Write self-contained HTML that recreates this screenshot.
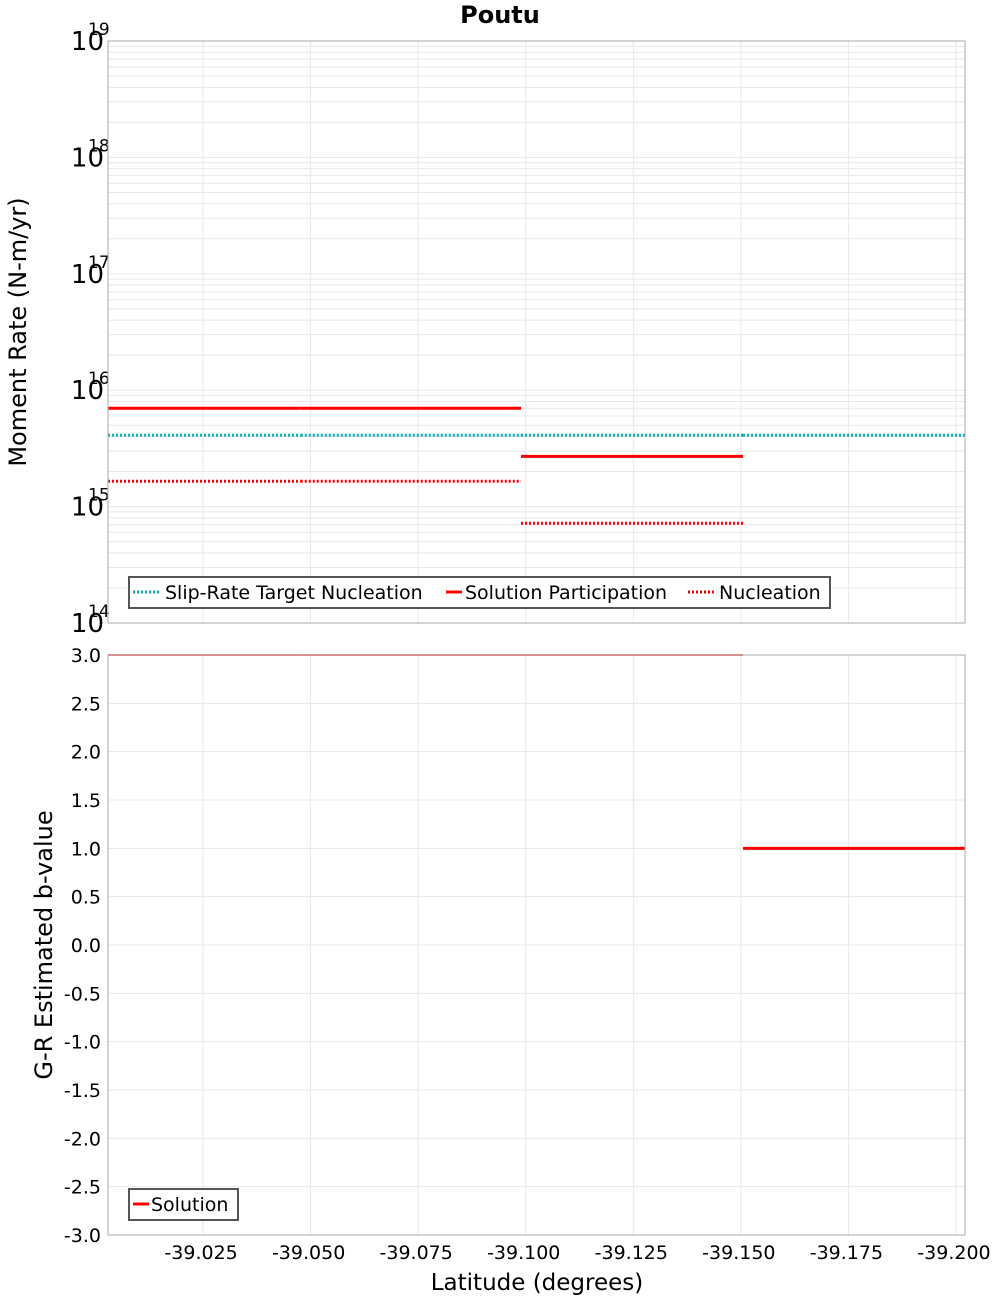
<!DOCTYPE html>
<html><head><meta charset="utf-8"><style>
body{margin:0;background:#fff;font-family:"Liberation Sans","DejaVu Sans",sans-serif}
svg text{font-family:"DejaVu Sans","Liberation Sans",sans-serif}
</style></head><body>
<svg id="chart" width="1000" height="1300" xmlns="http://www.w3.org/2000/svg"></svg>
<script>
const segStarts = [-39.0029, -39.0477, -39.0989, -39.1505];
const segEnds   = [-39.0477, -39.0989, -39.1505, -39.2021];
const participation = [7.0e15, 7.0e15, 2.7e15, null];
const nucleation = [1.65e15, 1.65e15, 7.2e14, null];
const targetNucleation = [4.1e15, 4.1e15, 4.1e15, 4.1e15];
const bValues = [3.0, 3.0, 3.0, 1.0];
const xTicks = [-39.025, -39.05, -39.075, -39.1, -39.125, -39.15, -39.175, -39.2];
const xTickLabels = ["-39.025","-39.050","-39.075","-39.100","-39.125","-39.150","-39.175","-39.200"];
const logTicks = [14,15,16,17,18,19];
const bTicks = [-3,-2.5,-2,-1.5,-1,-0.5,0,0.5,1,1.5,2,2.5,3];

const L=108,R=965,T1=41,B1=623,T2=655,B2=1235;
const xMin=-39.0029,xMax=-39.2021;
const X=v=>L+(v-xMin)/(xMax-xMin)*(R-L);
const Y1=v=>B1-(Math.log10(v)-14)/5*(B1-T1);
const Y2=v=>B2-(v+3)/6*(B2-T2);
const svg=document.getElementById('chart');
const NS='http://www.w3.org/2000/svg';
function mk(tag,attrs,parent){const e=document.createElementNS(NS,tag);for(const k in attrs)e.setAttribute(k,attrs[k]);(parent||svg).appendChild(e);return e;}
function line(x1,y1,x2,y2,st,w,dash){return mk('line',{x1,y1,x2,y2,stroke:st,'stroke-width':w||1,'stroke-dasharray':dash||'none'});}
function txt(x,y,s,size,anchor,extra){const t=mk('text',Object.assign({x,y,'font-size':size,'text-anchor':anchor||'start',fill:'#000'},extra||{}));t.textContent=s;return t;}

let t=txt(500,23,'Poutu',24,'middle',{'font-weight':'bold'});



for(let d=14;d<19;d++)for(let m=1;m<=9;m++){const y=Y1(m*Math.pow(10,d));line(L,y,R,y,'#e8e8e8',1);}
for(const b of bTicks)line(L,Y2(b),R,Y2(b),'#e8e8e8',1);
for(const v of xTicks){line(X(v),T1,X(v),B1,'#e8e8e8',1);line(X(v),T2,X(v),B2,'#e8e8e8',1);}

for(const d of logTicks){const y=Y1(Math.pow(10,d));
  const g=mk('g',{});
  
  
  const a=mk('text',{x:104,y:y+9,'font-size':26,'text-anchor':'end',fill:'#000'},g);a.textContent='10';
  const b=mk('text',{x:88,y:y-6,'font-size':17,fill:'#000'},g);b.textContent=String(d);
}
for(const b of bTicks){t=txt(101,Y2(b)+7,b.toFixed(1),19,'end');
  
  }
xTicks.forEach((v,i)=>{t=txt(X(v)-2,1259,xTickLabels[i],19,'middle');
  
  });

for(let i=0;i<segStarts.length;i++){
  const x1=X(segStarts[i]),x2=X(segEnds[i]);
  let e;
  if(targetNucleation[i]!=null){e=line(x1,Y1(targetNucleation[i]),x2,Y1(targetNucleation[i]),'#00b4b4',3,'2,2');
    }
  if(participation[i]!=null){e=line(x1,Y1(participation[i]),x2,Y1(participation[i]),'#ff0000',3);
    }
  if(nucleation[i]!=null){e=line(x1,Y1(nucleation[i]),x2,Y1(nucleation[i]),'#ff0000',3,'2,2');
    }
  const yb=Math.max(T2,Y2(bValues[i]));
  e=line(x1,yb,x2,yb,'#ff0000',bValues[i]>=3?1.5:3);
  
}

let f=mk('rect',{x:L,y:T1,width:R-L,height:B1-T1,fill:'none',stroke:'#aaa'});

f=mk('rect',{x:L,y:T2,width:R-L,height:B2-T2,fill:'none',stroke:'#aaa'});


t=txt(0,0,'Moment Rate (N-m/yr)',24,'middle',{transform:'translate(26,332) rotate(-90)'});

t=txt(0,0,'G-R Estimated b-value',24,'middle',{transform:'translate(52,945) rotate(-90)'});

t=txt(537,1290,'Latitude (degrees)',23,'middle');


let lg=mk('g',{});

mk('rect',{x:129,y:577,width:701,height:31,fill:'#fff',stroke:'#555','stroke-width':2},lg);
mk('line',{x1:133,y1:592,x2:161,y2:592,stroke:'#00b4b4','stroke-width':3,'stroke-dasharray':'2,2'},lg);
let s=mk('text',{x:165,y:599,'font-size':19,fill:'#000'},lg);s.textContent='Slip-Rate Target Nucleation';
mk('line',{x1:446,y1:592,x2:462,y2:592,stroke:'#f00','stroke-width':3},lg);
s=mk('text',{x:465,y:599,'font-size':19,fill:'#000'},lg);s.textContent='Solution Participation';
mk('line',{x1:688,y1:592,x2:716,y2:592,stroke:'#f00','stroke-width':3,'stroke-dasharray':'2,2'},lg);
s=mk('text',{x:719,y:599,'font-size':19,fill:'#000'},lg);s.textContent='Nucleation';

lg=mk('g',{});

mk('rect',{x:129,y:1189,width:109,height:31,fill:'#fff',stroke:'#555','stroke-width':2},lg);
mk('line',{x1:133,y1:1204,x2:149,y2:1204,stroke:'#f00','stroke-width':3},lg);
s=mk('text',{x:151,y:1211,'font-size':19,fill:'#000'},lg);s.textContent='Solution';
</script>
</body></html>
